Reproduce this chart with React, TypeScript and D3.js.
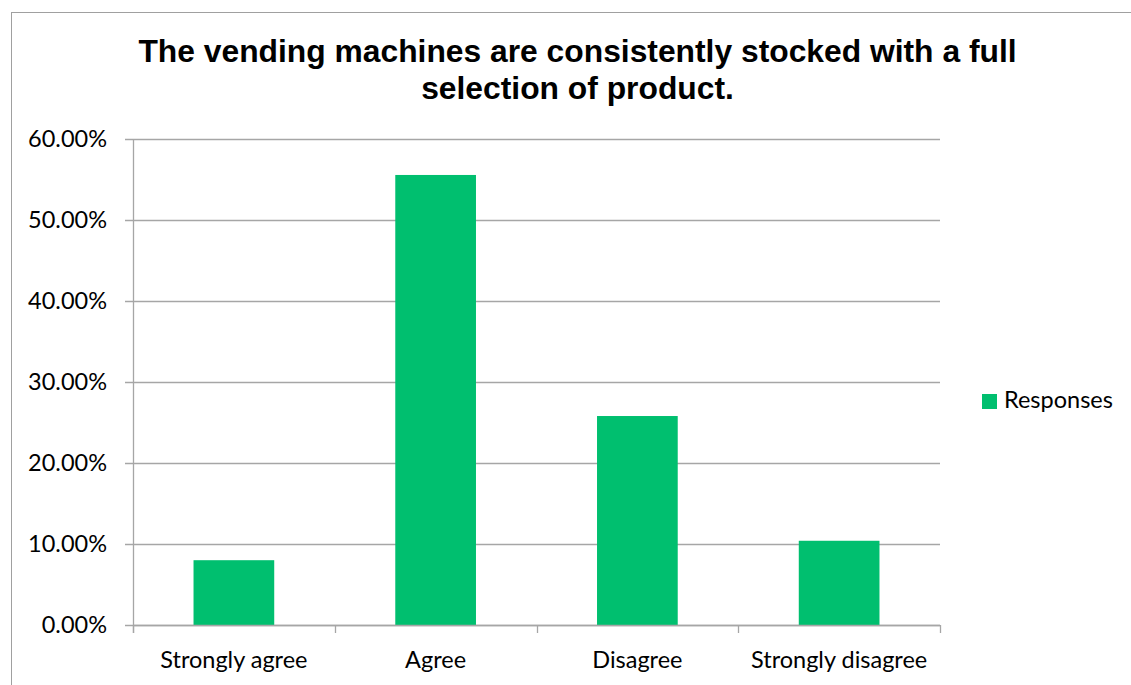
import React, { useEffect, useRef } from "react";
import * as d3 from "d3";

const categories = ["Strongly agree", "Agree", "Disagree", "Strongly disagree"];
const responses = [0.08, 0.5556, 0.258, 0.104];
const yTicks = [0, 0.1, 0.2, 0.3, 0.4, 0.5, 0.6];
const seriesName = "Responses";
const titleLines = [
  "The vending machines are consistently stocked with a full",
  "selection of product.",
];

const W = 1131;
const H = 685;

const App: React.FC = () => {
  const ref = useRef<SVGSVGElement | null>(null);

  useEffect(() => {
    const svg = d3.select(ref.current);
    svg.selectAll("*").remove();

    const margin = { left: 133, right: 1131 - 940, top: 139, bottom: 685 - 625 };
    const green = "#00bf6f";
    const gridColor = "#a6a6a6";
    const labelFont = "Lato, 'Open Sans', sans-serif";
    const labelSize = "23.5px";

    svg.append("rect").attr("width", W).attr("height", H).attr("fill", "#fff");

    // chart border (right/bottom fall off the picture)
    svg
      .append("rect")
      .attr("x", 11.5)
      .attr("y", 12.5)
      .attr("width", W + 20)
      .attr("height", H + 20)
      .attr("fill", "none")
      .attr("stroke", "#a0a0a0")
      .attr("stroke-width", 1);

    const x = d3
      .scaleBand<string>()
      .domain(categories)
      .range([margin.left, W - margin.right])
      .paddingInner(0.6)
      .paddingOuter(0.3);

    const y = d3
      .scaleLinear()
      .domain([0, 0.6])
      .range([H - margin.bottom, margin.top]);

    // gridlines + y ticks
    const grid = svg.append("g");
    grid
      .selectAll("line")
      .data(yTicks)
      .enter()
      .append("line")
      .attr("x1", margin.left - 8)
      .attr("x2", W - margin.right)
      .attr("y1", (d) => Math.round(y(d)) + 0.5)
      .attr("y2", (d) => Math.round(y(d)) + 0.5)
      .attr("stroke", gridColor)
      .attr("stroke-width", 1.3);

    svg
      .append("g")
      .selectAll("text")
      .data(yTicks)
      .enter()
      .append("text")
      .attr("x", 107)
      .attr("y", (d) => y(d) + 8)
      .attr("text-anchor", "end")
      .attr("font-family", labelFont)
      .attr("font-size", labelSize)
      .attr("fill", "#000")
      .text((d) => d3.format(".2%")(d));

    // bars
    svg
      .append("g")
      .selectAll("rect")
      .data(responses)
      .enter()
      .append("rect")
      .attr("x", (d, i) => x(categories[i]) as number)
      .attr("y", (d) => y(d))
      .attr("width", x.bandwidth())
      .attr("height", (d) => y(0) - y(d))
      .attr("fill", green);

    // axes lines
    const x0 = margin.left + 0.5;
    svg
      .append("line")
      .attr("x1", x0)
      .attr("x2", x0)
      .attr("y1", y(0.6))
      .attr("y2", y(0) + 8)
      .attr("stroke", gridColor)
      .attr("stroke-width", 1.3);

    svg
      .append("line")
      .attr("x1", margin.left)
      .attr("x2", W - margin.right)
      .attr("y1", Math.round(y(0)) + 0.5)
      .attr("y2", Math.round(y(0)) + 0.5)
      .attr("stroke", gridColor)
      .attr("stroke-width", 1.3);

    const step = (W - margin.right - margin.left) / categories.length;
    svg
      .append("g")
      .selectAll("line")
      .data(d3.range(categories.length + 1))
      .enter()
      .append("line")
      .attr("x1", (d) => Math.round(margin.left + d * step) + 0.5)
      .attr("x2", (d) => Math.round(margin.left + d * step) + 0.5)
      .attr("y1", y(0))
      .attr("y2", y(0) + 8)
      .attr("stroke", gridColor)
      .attr("stroke-width", 1.3);

    // category labels
    svg
      .append("g")
      .selectAll("text")
      .data(categories)
      .enter()
      .append("text")
      .attr("x", (d) => (x(d) as number) + x.bandwidth() / 2)
      .attr("y", 668)
      .attr("text-anchor", "middle")
      .attr("font-family", labelFont)
      .attr("font-size", labelSize)
      .attr("fill", "#000")
      .text((d) => d);

    // title
    svg
      .append("g")
      .selectAll("text")
      .data(titleLines)
      .enter()
      .append("text")
      .attr("x", 577.5)
      .attr("y", (d, i) => 62 + i * 37)
      .attr("text-anchor", "middle")
      .attr("font-family", "'Liberation Sans', Arial, sans-serif")
      .attr("font-weight", "bold")
      .attr("font-size", "31.8px")
      .attr("fill", "#000")
      .text((d) => d);

    // legend
    const legend = svg.append("g").attr("transform", "translate(982,394)");
    legend
      .append("rect")
      .attr("width", 15)
      .attr("height", 15)
      .attr("fill", green);
    legend
      .append("text")
      .attr("x", 22)
      .attr("y", 14)
      .attr("font-family", labelFont)
      .attr("font-size", labelSize)
      .attr("fill", "#000")
      .text(seriesName);
  }, []);

  return (
    <svg
      ref={ref}
      width={W}
      height={H}
      style={{ position: "absolute", left: 0, top: 0, display: "block" }}
    ></svg>
  );
};

export default App;
